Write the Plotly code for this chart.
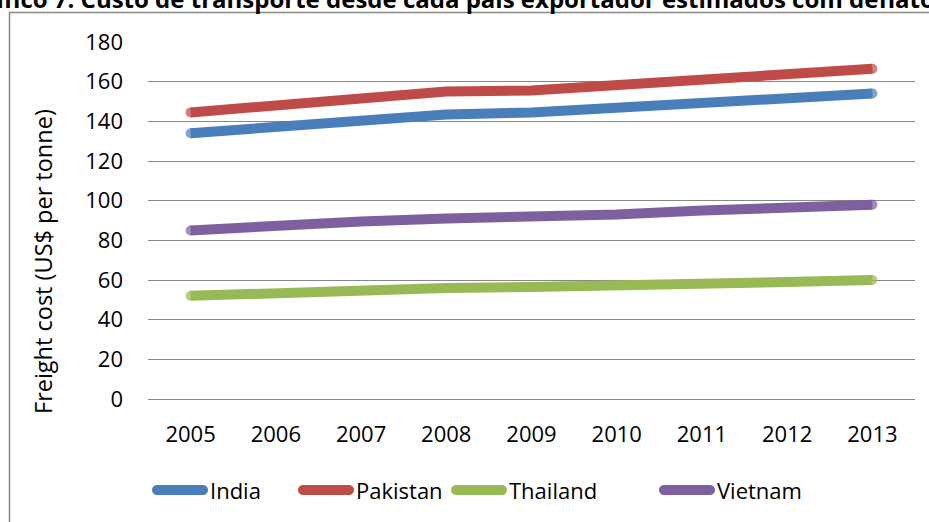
import plotly.graph_objects as go

# Freight cost by exporting country (US$ per tonne)
years = ["2005", "2006", "2007", "2008", "2009", "2010", "2011", "2012", "2013"]
india = [134, 137.5, 141, 143.5, 144.5, 147, 149.5, 152, 154]
pakistan = [144.5, 148, 152, 155, 155.5, 158, 161, 164, 166.5]
thailand = [52, 53.5, 55, 56, 56.5, 57, 58, 59, 60]
vietnam = [85, 87.5, 89.5, 91, 91.5, 93, 95, 97, 98]
y_ticks = [0, 20, 40, 60, 80, 100, 120, 140, 160, 180]

series = [
    ("India", india, "#4A7EBB"),
    ("Pakistan", pakistan, "#BE4B48"),
    ("Thailand", thailand, "#98B954"),
    ("Vietnam", vietnam, "#7D60A0"),
]

FONT = "Open Sans"
LINE_W = 10
W, H = 929, 522
L, R, T, B = 148, 14, 42, 123
PW, PH = W - L - R, H - T - B


def px(x):
    return (x - L) / PW


def py(y):
    return (H - B - y) / PH


fig = go.Figure()
for name, vals, color in series:
    # round caps: a dot of line width at each end of the line
    cap_sizes = [LINE_W if i in (0, len(vals) - 1) else 0 for i in range(len(vals))]
    fig.add_trace(go.Scatter(
        x=years, y=vals, name=name, mode="lines+markers",
        line=dict(color=color, width=LINE_W),
        marker=dict(color=color, size=cap_sizes, line=dict(width=0)),
        showlegend=False,
    ))

shapes = []
annotations = []

# chart frame
shapes.append(dict(type="rect", xref="paper", yref="paper",
                   x0=px(9.5), x1=px(W + 20), y0=py(H + 20), y1=py(12.5),
                   line=dict(color="#888888", width=1.5), fillcolor="rgba(0,0,0,0)",
                   layer="below"))


def capsule(length, r):
    """Pixel path of a horizontal bar with rounded ends, centred on (0, 0)."""
    h = length / 2 - r
    k = 0.5523 * r
    return (f"M{-h},{-r} L{h},{-r} "
            f"C{h + k},{-r} {h + r},{-k} {h + r},0 "
            f"C{h + r},{k} {h + k},{r} {h},{r} "
            f"L{-h},{r} "
            f"C{-h - k},{r} {-h - r},{k} {-h - r},0 "
            f"C{-h - r},{-k} {-h - k},{-r} {-h},{-r} Z")


# legend: rounded swatches followed by labels
swatch_left = [152, 298, 451, 659]
swatch_len = 56
legend_y = 490
for (name, vals, color), x0 in zip(series, swatch_left):
    shapes.append(dict(type="path", xref="paper", yref="paper",
                       xsizemode="pixel", ysizemode="pixel",
                       xanchor=px(x0 + swatch_len / 2), yanchor=py(legend_y),
                       path=capsule(swatch_len, LINE_W / 2),
                       fillcolor=color, line=dict(width=0)))
    annotations.append(dict(text=name, xref="paper", yref="paper",
                            x=px(x0 + swatch_len), y=py(legend_y),
                            xanchor="left", yanchor="middle", showarrow=False,
                            font=dict(family=FONT, size=22, color="#000000")))

# y-axis title
annotations.append(dict(text="Freight cost (US$ per tonne)", xref="paper", yref="paper",
                        x=px(43), y=py(262), textangle=-90,
                        xanchor="center", yanchor="middle", showarrow=False,
                        font=dict(family=FONT, size=23.5, color="#000000")))

# chart heading
annotations.append(dict(
    text="<b>Gráfico 7: Custo de transporte desde cada país exportador estimados com deflator</b>",
    xref="paper", yref="paper", x=px(453), y=py(17),
    xanchor="center", yanchor="bottom", showarrow=False,
    font=dict(family=FONT, size=24, color="#000000")))

fig.update_layout(
    width=W, height=H, autosize=False,
    margin=dict(l=L, r=R, t=T, b=B, pad=0),
    paper_bgcolor="#ffffff", plot_bgcolor="#ffffff",
    font=dict(family=FONT, size=22, color="#000000"),
    shapes=shapes, annotations=annotations,
    xaxis=dict(type="category", range=[-0.5, len(years) - 0.5],
               showgrid=False, zeroline=False, showline=False, ticks="",
               ticklabelstandoff=20, tickfont=dict(family=FONT, size=22)),
    yaxis=dict(range=[0, 180], tickvals=y_ticks, showgrid=True,
               gridcolor="#878787", gridwidth=1.3, zeroline=True,
               zerolinecolor="#878787", zerolinewidth=1.3, showline=False,
               ticks="", ticklabelstandoff=24, tickfont=dict(family=FONT, size=22)),
)

fig.write_html("out.html")
